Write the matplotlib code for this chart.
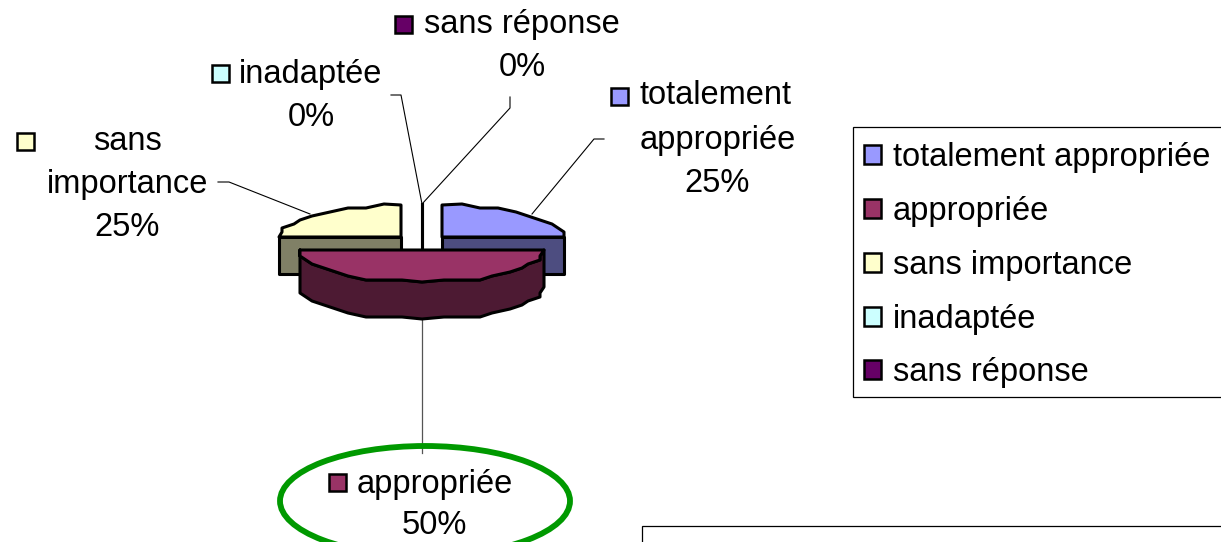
import matplotlib
matplotlib.use("Agg")
import matplotlib.pyplot as plt
import numpy as np
from matplotlib.patches import Ellipse, Patch, Polygon, Rectangle

plt.rcParams['font.family'] = ['Liberation Sans', 'DejaVu Sans']

categories = ['totalement appropriée', 'appropriée', 'sans importance', 'inadaptée', 'sans réponse']
values = [25, 50, 25, 0, 0]
colors = ['#9999FF', '#993366', '#FFFFCC', '#CCFFFF', '#660066']
side_colors = ['#4D4D80', '#4D1A33', '#808066', '#668080', '#330033']

# pixel coordinates of the pie
CX, CY = 422, 237
RX, RY = 122, 32
DEPTH = 37
offsets = [(20, 0), (0, 13), (-21, 0), (0, 0), (0, 0)]
FONT = 23.5

fig = plt.figure(figsize=(12.21, 5.42), dpi=100)
ax = fig.add_axes([0, 0, 1, 1])
ax.set_xlim(0, 1221)
ax.set_ylim(542, 0)
ax.axis('off')


def rim(t, ox, oy):
    # the original pie is a coarse raster, so snap the rim to a grid
    x = ox + RX * np.sin(np.radians(t))
    y = oy - RY * np.cos(np.radians(t))
    edge = (t % 90) == 0
    return (x if edge else np.round(x / 6) * 6), (y if edge else np.round(y / 4) * 4)


angles = np.cumsum([0] + values) * 3.6
order = [3, 4, 0, 2, 1]
for z, i in enumerate(order):
    ox, oy = CX + offsets[i][0], CY + offsets[i][1]
    if values[i] == 0:
        ax.plot([ox, ox], [oy - RY - 1, oy + 13], color='black', lw=2.2, zorder=2)
        continue
    ts = np.arange(angles[i], angles[i + 1] + 1, 9)
    arc = [rim(t, ox, oy) for t in ts]
    front = [p for t, p in zip(ts, arc) if 90 <= t <= 270]
    if len(front) < 2:
        front = [(ox, oy), front[0]]
    side = front + [(x, y + DEPTH) for x, y in front[::-1]]
    ax.add_patch(Polygon(side, closed=True, fc=side_colors[i], ec='black', lw=2.2, zorder=3 + z, joinstyle='round'))
    ax.add_patch(Polygon([(ox, oy)] + arc, closed=True, fc=colors[i], ec='black', lw=2.2, zorder=3 + z, joinstyle='round'))

# leader lines
ax.plot([510, 510, 422], [97, 108, 204], color='black', lw=0.8, zorder=1)
ax.plot([391, 401, 422], [95, 95, 204], color='black', lw=0.8, zorder=1)
ax.plot([604, 594, 532], [139, 139, 214], color='black', lw=0.8, zorder=1)
ax.plot([218, 229, 310], [182, 182, 214], color='black', lw=0.8, zorder=1)
ax.plot([422, 422], [320, 453], color='#555555', lw=0.9, zorder=1)


def label(x, y, s):
    ax.text(x, y, s, fontsize=FONT, ha='center', va='center', color='black', zorder=12)


def swatch(x, y, i):
    ax.add_patch(Rectangle((x, y), 17, 17, fc=colors[i], ec='black', lw=1.8, zorder=12))


# data labels with their little keys
swatch(395, 16, 4)
label(522, 25, categories[4])
label(522, 68, f'{values[4]}%')
swatch(212, 65, 3)
label(311, 74, categories[3])
label(311, 117, f'{values[3]}%')
swatch(611, 88, 0)
label(716, 96, 'totalement')
label(718, 141, 'appropriée')
label(717, 184, f'{values[0]}%')
swatch(17, 133, 2)
label(127, 141, 'sans')
label(128, 185, 'importance')
label(127, 227, f'{values[2]}%')
swatch(329, 474, 1)
label(435, 484, categories[1])
label(434, 526, f'{values[1]}%')

ax.add_patch(Ellipse((425, 501), 290, 110, fc='none', ec='#009900', lw=4.2, zorder=11))

# box at the bottom, cut off by the picture
ax.add_patch(Rectangle((641.5, 525.5), 700, 60, fc='white', ec='black', lw=0.9, zorder=1))

# legend frame is separate: the rows sit a bit low inside it
ax.add_patch(Rectangle((852.5, 126.5), 400, 270, fc='white', ec='black', lw=0.9, zorder=1))
handles = [Patch(fc=c, ec='black', lw=1.8) for c in colors]
leg = ax.legend(handles, categories, loc='upper left', bbox_to_anchor=(852, 130),
                bbox_transform=ax.transData, fontsize=FONT, frameon=False,
                borderpad=0.37, labelspacing=0.70,
                handlelength=0.52, handleheight=0.52, handletextpad=0.37, borderaxespad=0)

fig.savefig('out.png', dpi=100)
